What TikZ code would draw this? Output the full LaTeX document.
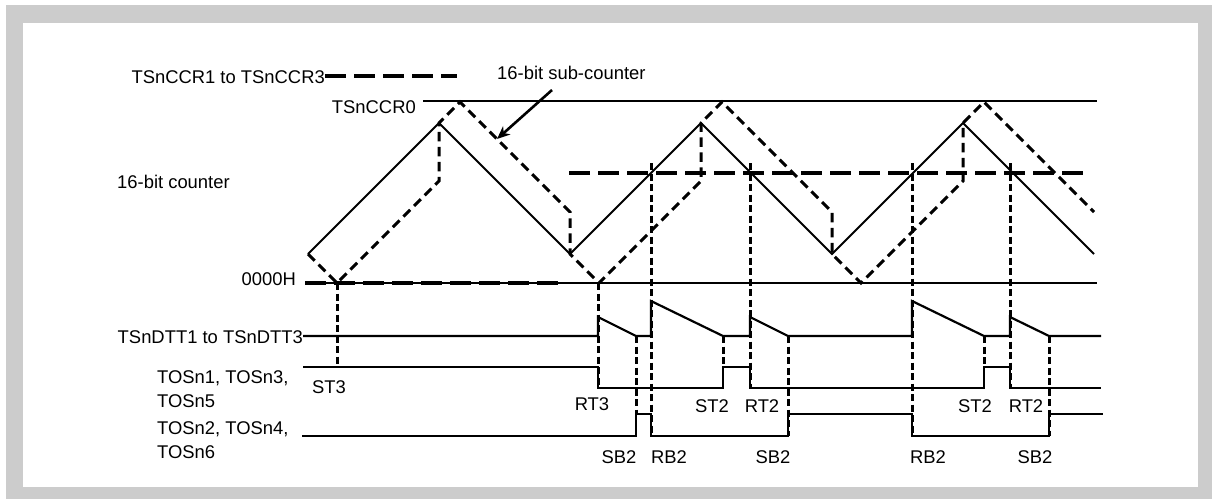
\documentclass[tikz,border=0pt]{standalone}
\usepackage{fontspec}
\setmainfont{Liberation Sans}
\usetikzlibrary{arrows.meta}
\definecolor{framegray}{RGB}{204,204,204}
\tikzset{
  lbl/.style={inner sep=0pt,font=\fontsize{18.4}{22}\selectfont},
  refline/.style={line width=1.3pt},
  cntline/.style={line width=2pt,line join=miter},
  subline/.style={line width=3pt,dash pattern=on 9.5pt off 5.5pt},
  vline/.style={line width=3pt,dash pattern=on 7pt off 3.5pt},
  heavyline/.style={line width=4pt,dash pattern=on 21pt off 8pt},
  waveline/.style={line width=2.2pt,line join=miter}
}
\begin{document}
\begin{tikzpicture}[x=1pt,y=-1pt]
\useasboundingbox (0,0) rectangle (1212,499);
\fill[white] (0,0) rectangle (1212,499);
\fill[framegray] (6,5) rectangle (1212,499);
\fill[white] (23,23) rectangle (1198,487);

% labels
\node[lbl,anchor=base east] (lccr) at (325,83.5) {TSnCCR1 to TSnCCR3};
\node[lbl,anchor=base west] (lsub) at (497,79) {16-bit sub-counter};
\node[lbl,anchor=base east] (lccr0) at (416,113) {TSnCCR0};
\node[lbl,anchor=base west] (lcnt) at (117,188.5) {16-bit counter};
\node[lbl,anchor=base east] (lzero) at (296,285) {0000H};
\node[lbl,anchor=base east] (ldtt) at (303,343) {TSnDTT1 to TSnDTT3};
\node[lbl,anchor=base west] (ltosa1) at (157,383.5) {TOSn1, TOSn3,};
\node[lbl,anchor=base west] (ltosa2) at (157,407) {TOSn5};
\node[lbl,anchor=base west] (ltosb1) at (157,434.5) {TOSn2, TOSn4,};
\node[lbl,anchor=base west] (ltosb2) at (157,458) {TOSn6};

\node[lbl,anchor=base] (st3) at (329,393) {ST3};
\node[lbl,anchor=base] (rt3) at (592,410) {RT3};
\node[lbl,anchor=base] (sta) at (712,412) {ST2};
\node[lbl,anchor=base] (rta) at (762,412) {RT2};
\node[lbl,anchor=base] (stb) at (975,412) {ST2};
\node[lbl,anchor=base] (rtb) at (1026,412) {RT2};
\node[lbl,anchor=base] (sba) at (619,463) {SB2};
\node[lbl,anchor=base] (rba) at (669,463) {RB2};
\node[lbl,anchor=base] (sbb) at (773,463) {SB2};
\node[lbl,anchor=base] (rbb) at (928,463) {RB2};
\node[lbl,anchor=base] (sbc) at (1035,463) {SB2};

% legend and reference lines
\coordinate (legA) at (325,76);
\coordinate (legB) at (457,76);
\draw[heavyline] (legA) -- (legB);
\coordinate (topA) at (423,101);
\coordinate (topB) at (1097,101);
\draw[refline] (topA) -- (topB);
\coordinate (zeroA) at (305,283);
\coordinate (zeroB) at (1097,283);
\draw[refline] (zeroA) -- (zeroB);
\draw[heavyline] (305,283) -- (563,283);
\draw[heavyline] (569,173) -- (1090,173);

% arrow to sub-counter
\coordinate (arrS) at (552,90);
\coordinate (arrE) at (497,139);
\draw[line width=2.6pt,-{Stealth[length=13pt,width=11pt,inset=4pt]}] (arrS) -- (arrE);

% 16-bit counter
\draw[cntline] (308,254) -- (439,123) -- (570,254) -- (701,123) -- (832,254) -- (963,123) -- (1094,254);

% 16-bit sub-counter
\draw[subline] (308,254) -- (337,283) -- (439,181) -- (439,123) -- (460,102) -- (570,212) -- (570,254)
  -- (599,283) -- (701,181) -- (701,123) -- (722,102) -- (832,212) -- (832,254)
  -- (861,283) -- (963,181) -- (963,123) -- (984,102) -- (1094,212);

% vertical dashed event lines
\draw[vline] (337,283) -- (337,367);
\draw[vline] (598,283) -- (598,388);
\draw[vline] (636,336) -- (636,414);
\draw[vline] (651,163) -- (651,436);
\draw[vline] (723,336) -- (723,367);
\draw[vline] (750,163) -- (750,388);
\draw[vline] (788,336) -- (788,436);
\draw[vline] (912,163) -- (912,436);
\draw[vline] (984,336) -- (984,367);
\draw[vline] (1010,163) -- (1010,388);
\draw[vline] (1049,336) -- (1049,436);

% TSnDTT waveform
\draw[waveline] (303,336) -- (598,336) -- (598,317) -- (636,336) -- (651,336) -- (651,301) -- (723,336)
  -- (750,336) -- (750,317) -- (788,336) -- (912,336) -- (912,301) -- (984,336) -- (1010,336)
  -- (1010,317) -- (1049,336) -- (1101,336);

% TOSn1 waveform
\draw[waveline] (303,367) -- (598,367) -- (598,388) -- (723,388) -- (723,367) -- (750,367) -- (750,388)
  -- (984,388) -- (984,367) -- (1010,367) -- (1010,388) -- (1101,388);

% TOSn2 waveform
\draw[waveline] (302,436) -- (636,436) -- (636,414) -- (651,414) -- (651,436) -- (788,436) -- (788,414)
  -- (912,414) -- (912,436) -- (1049,436) -- (1049,414) -- (1103,414);
\end{tikzpicture}
\end{document}
